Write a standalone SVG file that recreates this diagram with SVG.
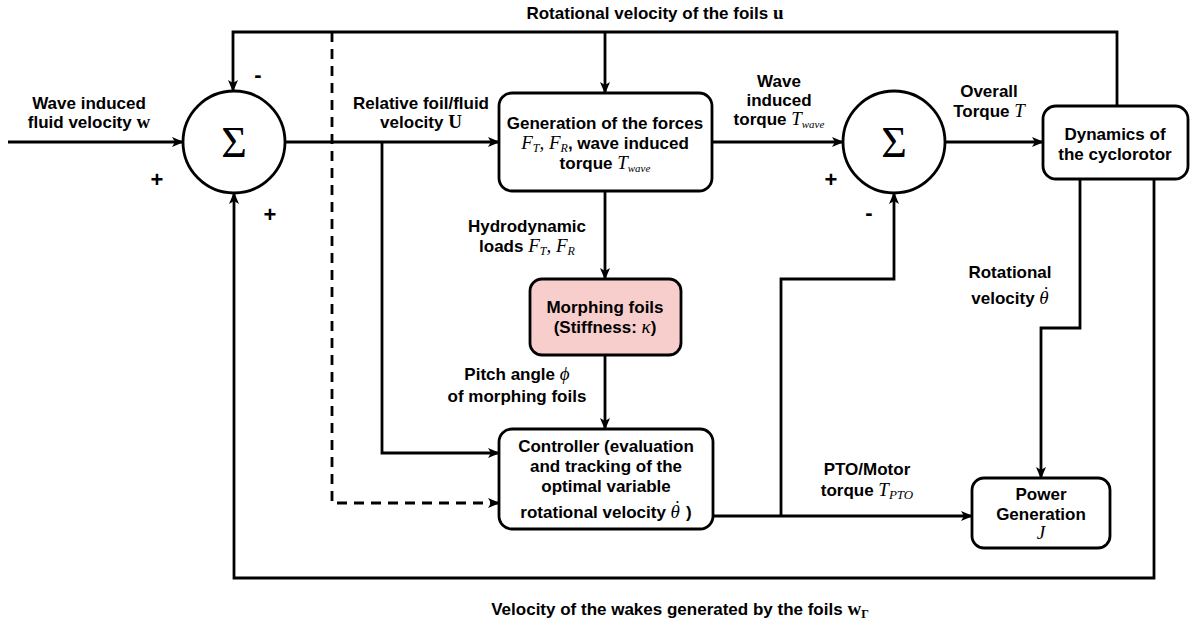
<svg xmlns="http://www.w3.org/2000/svg" width="1198" height="626" viewBox="0 0 1198 626">
<defs>
<marker id="arr" viewBox="0 0 12 10" refX="11" refY="5" markerWidth="12" markerHeight="10" markerUnits="userSpaceOnUse" orient="auto">
<path d="M0,0 L12,5 L0,10 L3,5 z" fill="#000"/>
</marker>
<style>
.ln{fill:none;stroke:#000;stroke-width:2.8}
.dash{stroke-dasharray:10,7}
.box{fill:#fff;stroke:#000;stroke-width:2.8}
.pink{fill:#f8cecc}
.t{font-family:"Liberation Sans",Arial,sans-serif;font-weight:bold;font-size:17px;fill:#000;text-anchor:middle}
.m{font-family:"Liberation Serif","Times New Roman",serif;font-style:italic;font-weight:normal}
.b{font-family:"Liberation Serif","Times New Roman",serif;font-weight:bold}
.sig{font-family:"Liberation Serif","DejaVu Serif",serif;font-size:44px;text-anchor:middle;fill:#000}
.sign{font-family:"Liberation Sans",Arial,sans-serif;font-weight:bold;font-size:22px;text-anchor:middle;fill:#000}
</style>
</defs>
<rect width="1198" height="626" fill="#fff"/>
<g id="connectors">
<path class="ln" d="M8,142 H183" marker-end="url(#arr)"/>
<path class="ln" d="M1117,106 V32 H233 V91" marker-end="url(#arr)"/>
<path class="ln" d="M605,32 V93" marker-end="url(#arr)"/>
<path class="ln dash" d="M332,32 V503 H499" marker-end="url(#arr)"/>
<path class="ln" d="M285,142 H499" marker-end="url(#arr)"/>
<path class="ln" d="M382,142 V453 H499" marker-end="url(#arr)"/>
<path class="ln" d="M712,142 H843" marker-end="url(#arr)"/>
<path class="ln" d="M945,142 H1043" marker-end="url(#arr)"/>
<path class="ln" d="M605,191 V279" marker-end="url(#arr)"/>
<path class="ln" d="M605,355 V429" marker-end="url(#arr)"/>
<path class="ln" d="M713,516 H972" marker-end="url(#arr)"/>
<path class="ln" d="M781,516 V279 H894 V193" marker-end="url(#arr)"/>
<path class="ln" d="M1080,179 V328 H1041 V478" marker-end="url(#arr)"/>
<path class="ln" d="M1154,179 V578 H234 V193" marker-end="url(#arr)"/>
</g>
<g id="sum1">
<circle class="box" cx="234" cy="142" r="51"/>
<text class="sig" x="234" y="157">Σ</text>
</g>
<g id="sum2">
<circle class="box" cx="894" cy="142" r="51"/>
<text class="sig" x="894" y="157">Σ</text>
</g>
<g id="generation">
<rect class="box" x="499" y="93" width="213" height="98" rx="13"/>
<text class="t" x="605" y="129">Generation of the forces</text>
<text class="t" x="605" y="149"><tspan class="m" font-size="19">F<tspan font-size="12" dy="3">T</tspan><tspan dy="-3">, F</tspan><tspan font-size="12" dy="3">R</tspan></tspan><tspan dy="-3">, wave induced</tspan></text>
<text class="t" x="605" y="169">torque <tspan class="m" font-size="19">T<tspan font-size="11" dy="3">wave</tspan></tspan></text>
</g>
<g id="dynamics">
<rect class="box" x="1043" y="106" width="145" height="73" rx="13"/>
<text class="t" x="1115" y="140">Dynamics of</text>
<text class="t" x="1115" y="160">the cyclorotor</text>
</g>
<g id="morphing">
<rect class="box pink" x="530" y="279" width="151" height="76" rx="12"/>
<text class="t" x="605" y="313">Morphing foils</text>
<text class="t" x="605" y="333">(Stiffness: <tspan class="m" font-size="19">κ</tspan>)</text>
</g>
<g id="controller">
<rect class="box" x="499" y="429" width="214" height="100" rx="13"/>
<text class="t" x="606" y="452">Controller (evaluation</text>
<text class="t" x="606" y="472">and tracking of the</text>
<text class="t" x="606" y="492">optimal variable</text>
<text class="t" x="606" y="518">rotational velocity <tspan class="m" font-size="19">θ</tspan><tspan class="m" font-size="19" dx="-7" dy="-4">˙</tspan><tspan dx="2" dy="4"> )</tspan></text>
</g>
<g id="power">
<rect class="box" x="972" y="478" width="138" height="70" rx="12"/>
<text class="t" x="1041" y="500">Power</text>
<text class="t" x="1041" y="520">Generation</text>
<text class="t" x="1041" y="539"><tspan class="m" font-size="19">J</tspan></text>
</g>
<g id="labels">
<text class="t" x="655" y="19">Rotational velocity of the foils <tspan class="b" font-size="19">u</tspan></text>
<text class="t" x="89" y="109">Wave induced</text>
<text class="t" x="89" y="128">fluid velocity <tspan class="b" font-size="19">w</tspan></text>
<text class="t" x="421" y="109">Relative foil/fluid</text>
<text class="t" x="421" y="128">velocity <tspan class="b" font-size="19">U</tspan></text>
<text class="t" x="779" y="87">Wave</text>
<text class="t" x="779" y="106">induced</text>
<text class="t" x="779" y="125">torque <tspan class="m" font-size="19">T<tspan font-size="11" dy="3">wave</tspan></tspan></text>
<text class="t" x="989" y="97">Overall</text>
<text class="t" x="989" y="117">Torque <tspan class="m" font-size="19">T</tspan></text>
<text class="t" x="527" y="232">Hydrodynamic</text>
<text class="t" x="527" y="252">loads  <tspan class="m" font-size="19">F<tspan font-size="12" dy="3">T</tspan><tspan dy="-3">, F</tspan><tspan font-size="12" dy="3">R</tspan></tspan></text>
<text class="t" x="517" y="380">Pitch angle <tspan class="m" font-size="19">ϕ</tspan></text>
<text class="t" x="517" y="402">of morphing foils</text>
<text class="t" x="1010" y="278">Rotational</text>
<text class="t" x="1010" y="304">velocity <tspan class="m" font-size="19">θ</tspan><tspan class="m" font-size="19" dx="-7" dy="-4">˙</tspan></text>
<text class="t" x="867" y="475">PTO/Motor</text>
<text class="t" x="867" y="496">torque <tspan class="m" font-size="19">T<tspan font-size="13" dy="3">PTO</tspan></tspan></text>
<text class="t" x="680" y="615" font-size="16">Velocity of the wakes generated by the foils <tspan class="b" font-size="19">w<tspan font-size="12" dy="3">Γ</tspan></tspan></text>
<text class="sign" x="258" y="82">-</text>
<text class="sign" x="157" y="187">+</text>
<text class="sign" x="270" y="222">+</text>
<text class="sign" x="831" y="187">+</text>
<text class="sign" x="869" y="220">-</text>
</g>
</svg>
